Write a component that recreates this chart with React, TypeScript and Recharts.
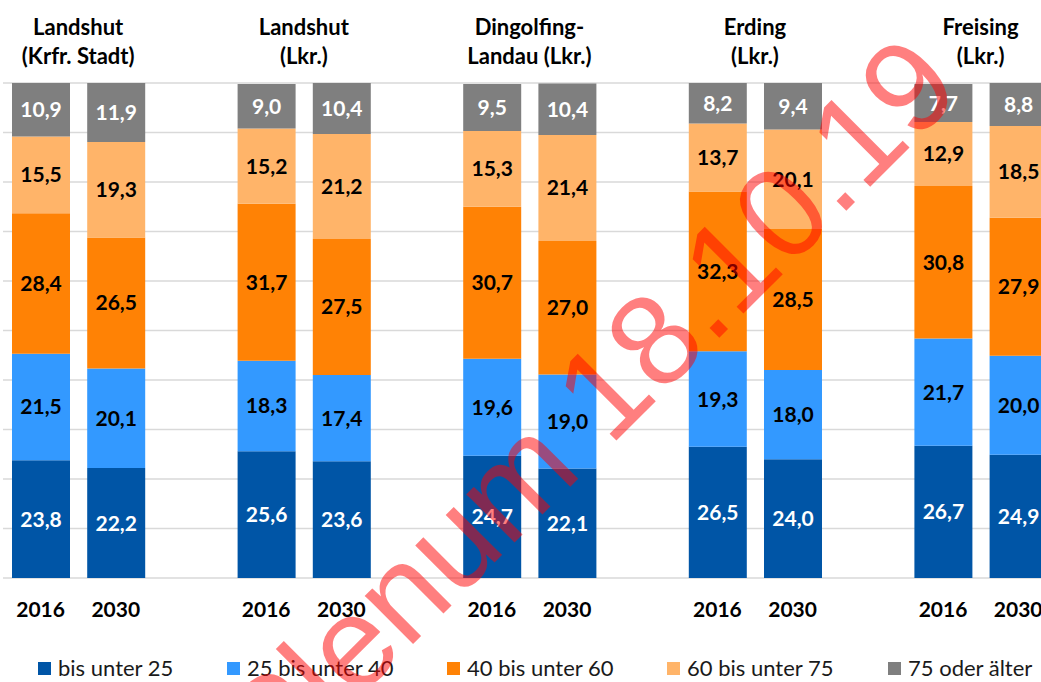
import React from "react";
import { BarChart, Bar, XAxis, YAxis, CartesianGrid, LabelList, Legend } from "recharts";

// ---- data ----
const regions = [
  "Landshut\n(Krfr. Stadt)",
  "Landshut\n(Lkr.)",
  "Dingolfing-\nLandau (Lkr.)",
  "Erding\n(Lkr.)",
  "Freising\n(Lkr.)",
];
const years = ["2016", "2030"];
// order: region1 2016, region1 2030, region2 2016, ...
const bisUnter25 = [23.8, 22.2, 25.6, 23.6, 24.7, 22.1, 26.5, 24.0, 26.7, 24.9];
const von25bis40 = [21.5, 20.1, 18.3, 17.4, 19.6, 19.0, 19.3, 18.0, 21.7, 20.0];
const von40bis60 = [28.4, 26.5, 31.7, 27.5, 30.7, 27.0, 32.3, 28.5, 30.8, 27.9];
const von60bis75 = [15.5, 19.3, 15.2, 21.2, 15.3, 21.4, 13.7, 20.1, 12.9, 18.5];
const ab75 = [10.9, 11.9, 9.0, 10.4, 9.5, 10.4, 8.2, 9.4, 7.7, 8.8];
const yTicks = [0, 10, 20, 30, 40, 50, 60, 70, 80, 90, 100];

const seriesNames = ["bis unter 25", "25 bis unter 40", "40 bis unter 60", "60 bis unter 75", "75 oder älter"];

// ---- styles ----
const COLORS = ["#0055A6", "#3399FF", "#FF8205", "#FFB469", "#7F7F7F"];
const LABEL_COLORS = ["#FFFFFF", "#000000", "#000000", "#000000", "#FFFFFF"];
const FONT = "Lato, 'Open Sans', sans-serif";
const KEYS = ["s1", "s2", "s3", "s4", "s5"];
const LEGEND_LEFT = [38, 227, 447, 667, 888];

type Row = { id: string; region?: string; year?: string; first?: boolean; [k: string]: any };

const rows: Row[] = [];
regions.forEach((region, r) => {
  years.forEach((year, yi) => {
    const i = r * years.length + yi;
    rows.push({
      id: `${r}-${year}`,
      region,
      year,
      first: yi === 0,
      s1: bisUnter25[i],
      s2: von25bis40[i],
      s3: von40bis60[i],
      s4: von60bis75[i],
      s5: ab75[i],
    });
  });
  rows.push({ id: `gap-${r}` });
});
const rowById: Record<string, Row> = {};
rows.forEach((r) => (rowById[r.id] = r));

const fmt = (v: any) => (v === undefined || v === null || v === "" ? "" : Number(v).toFixed(1).replace(".", ","));

const YearTick = (props: any) => {
  const { x, y, payload } = props;
  const row = rowById[payload.value];
  if (!row || !row.year) return null;
  return (
    <text x={x} y={y + 31} textAnchor="middle" fontFamily={FONT} fontWeight={700} fontSize={21} fill="#000">
      {row.year}
    </text>
  );
};

const TitleTick = (props: any) => {
  const { x, y, payload } = props;
  const row = rowById[payload.value];
  if (!row || !row.first || !row.region) return null;
  const half = payload.offset ?? 37.6;
  const cx = x + half;
  const lines = row.region.split("\n");
  return (
    <text textAnchor="middle" fontFamily={FONT} fontWeight={700} fontSize={22} fill="#000">
      {lines.map((l: string, k: number) => (
        <tspan key={k} x={cx} y={y - 11 - (lines.length - 1 - k) * 29}>
          {l}
        </tspan>
      ))}
    </text>
  );
};

const LegendContent = () => (
  <div style={{ position: "relative", width: 1041, height: 22, fontFamily: FONT, fontSize: 22, color: "#1a1a1a" }}>
    {seriesNames.map((name, i) => (
      <div key={name} style={{ position: "absolute", left: LEGEND_LEFT[i], top: 0, display: "flex", alignItems: "center", height: 22, whiteSpace: "nowrap" }}>
        <span style={{ display: "inline-block", width: 13, height: 13, background: COLORS[i], marginRight: 7 }} />
        <span style={{ lineHeight: "22px" }}>{name}</span>
      </div>
    ))}
  </div>
);

export default function App() {
  return (
    <div style={{ position: "absolute", left: 0, top: 0, width: 1041, height: 682, overflow: "hidden", background: "#fff" }}>
      <BarChart width={1131} height={682} data={rows} margin={{ top: 0, right: 0, left: 3, bottom: 0 }}>
        <CartesianGrid vertical={false} stroke="#D9D9D9" strokeWidth={1.5} />
        <XAxis xAxisId="top" orientation="top" dataKey="id" height={83} axisLine={false} tickLine={false} interval={0} tick={<TitleTick />} />
        <XAxis dataKey="id" height={104} axisLine={false} tickLine={false} interval={0} tick={<YearTick />} />
        <YAxis hide domain={[0, 100]} ticks={yTicks} allowDataOverflow />
        {KEYS.map((k, i) => (
          <Bar key={k} dataKey={k} name={seriesNames[i]} stackId="a" fill={COLORS[i]} barSize={58} isAnimationActive={false}>
            <LabelList dataKey={k} position="center" formatter={fmt} fill={LABEL_COLORS[i]} fontFamily={FONT} fontWeight={700} fontSize={21} />
          </Bar>
        ))}
        <Legend verticalAlign="middle" align="center" layout="horizontal" wrapperStyle={{ top: 657, left: 0, width: 1041, height: 22 }} content={<LegendContent />} />
      </BarChart>
      <svg width={1041} height={682} style={{ position: "absolute", left: 0, top: 0, pointerEvents: "none" }}>
        <text x={275} y={782} transform="rotate(-45 275 782)" fontFamily="'Liberation Sans', Arial, sans-serif" fontSize={129} fill="#FF0000" fillOpacity={0.5}>
          Plenum 18.10.19
        </text>
      </svg>
    </div>
  );
}
